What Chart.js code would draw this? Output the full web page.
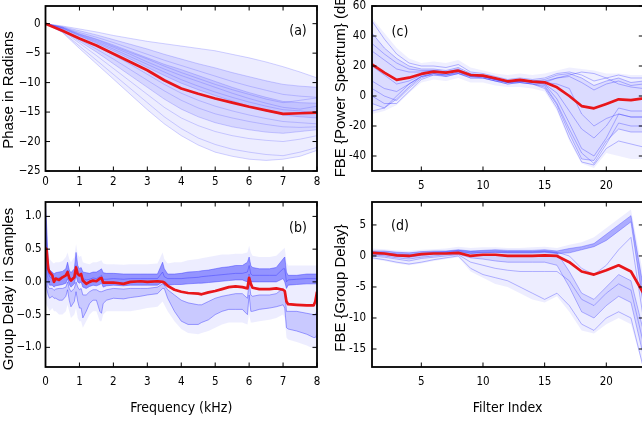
<!DOCTYPE html>
<html><head><meta charset="utf-8">
<script src="https://cdn.jsdelivr.net/npm/chart.js@4/dist/chart.umd.min.js"></script>
<style>
html,body{margin:0;padding:0;background:#fff;overflow:hidden;width:642px;height:423px;position:relative;}
canvas{position:absolute;}
</style></head><body>
<canvas id="ca" style="left:0;top:0" width="330" height="195"></canvas>
<canvas id="cb" style="left:0;top:195px" width="330" height="228"></canvas>
<canvas id="cc" style="left:330px;top:0" width="330" height="195"></canvas>
<canvas id="cd" style="left:330px;top:195px" width="330" height="228"></canvas>
<script>
// ---------- (a) phase ----------
const FREQ_X = [0,0.5,1,1.5,2,2.5,3,3.5,4,4.5,5,5.5,6,6.5,7,7.5,8];
const PHASE_MEAN = [0,-1.2,-2.5,-3.7,-5.1,-6.5,-7.9,-9.6,-11,-11.9,-12.7,-13.4,-14.1,-14.7,-15.3,-15.2,-15.1];
const PHASE_TRACES = [
 [0,-0.4,-0.9,-1.4,-2.0,-2.5,-3.0,-3.4,-3.8,-4.2,-4.6,-5.2,-5.8,-6.5,-7.3,-8.2,-9.2],
 [0,-0.5,-1.2,-1.9,-2.7,-3.5,-4.3,-5.2,-6.0,-6.8,-7.5,-8.3,-9.0,-9.7,-10.3,-10.6,-10.8],
 [0,-0.6,-1.5,-2.3,-3.2,-4.2,-5.2,-6.2,-7.1,-8.0,-8.9,-9.8,-10.6,-11.3,-12.0,-12.3,-12.5],
 [0,-0.6,-1.7,-2.6,-3.6,-4.7,-5.8,-6.9,-7.8,-8.8,-9.8,-10.8,-11.7,-12.5,-13.2,-13.4,-13.5],
 [0,-0.7,-1.8,-2.7,-3.8,-4.9,-6.0,-7.2,-8.3,-9.3,-10.3,-11.2,-12.0,-12.8,-13.4,-13.0,-12.6],
 [0,-0.7,-1.9,-2.9,-4.0,-5.2,-6.5,-7.7,-8.8,-9.8,-10.8,-11.8,-12.7,-13.5,-14.2,-14.5,-14.0],
 [0,-0.8,-2.0,-3.1,-4.3,-5.6,-6.9,-8.2,-9.5,-10.6,-11.6,-12.5,-13.3,-14.0,-14.6,-14.8,-15.2],
 [0,-0.8,-2.1,-3.3,-4.6,-6.0,-7.4,-8.8,-10.1,-11.2,-12.2,-13.1,-14.0,-14.8,-15.5,-15.8,-16.0],
 [0,-0.9,-2.4,-3.8,-5.3,-6.9,-8.6,-10.3,-11.8,-13.0,-14.0,-14.8,-15.5,-16.1,-16.6,-16.8,-17.0],
 [0,-1.0,-2.7,-4.3,-6.0,-7.8,-9.6,-11.4,-13.0,-14.3,-15.3,-16.0,-16.6,-17.1,-17.5,-17.6,-17.5],
 [0,-1.1,-3.0,-4.8,-6.8,-8.8,-10.8,-12.8,-14.5,-15.8,-16.8,-17.5,-18.0,-18.4,-18.6,-18.3,-18.0],
 [0,-1.2,-3.3,-5.4,-7.6,-9.8,-12.0,-14.2,-16.0,-17.3,-18.3,-19.0,-19.5,-19.8,-20.0,-19.6,-19.0],
 [0,-1.4,-3.8,-6.2,-8.6,-11.0,-13.4,-15.8,-17.8,-19.4,-20.5,-21.3,-21.8,-22.2,-22.4,-21.8,-21.0],
 [0,-1.5,-4.2,-6.8,-9.4,-12.0,-14.6,-17.0,-19.0,-20.6,-21.8,-22.5,-23.0,-23.2,-23.0,-22.5,-21.5]
];
const PHASE_YTICKS = [0,-5,-10,-15,-20,-25];
const FREQ_TICKS = [0,1,2,3,4,5,6,7,8];

// ---------- (b) group delay ----------
const GD_X = [0,0.03,0.08,0.12,0.2,0.25,0.3,0.4,0.5,0.6,0.65,0.7,0.75,0.85,0.9,0.95,1.0,1.05,1.1,1.2,1.3,1.4,1.5,1.6,1.65,1.7,1.8,2.0,2.3,2.5,2.8,3.0,3.3,3.45,3.5,3.6,3.8,4.0,4.2,4.5,4.6,4.8,5.0,5.2,5.4,5.6,5.8,5.95,6.0,6.05,6.1,6.3,6.6,6.8,7.0,7.05,7.1,7.15,7.4,7.7,7.9,7.95,8.0];
const GD_MEAN = [0.52,0.5,0.2,0.15,0.1,0.0,0.05,0.03,0.07,0.1,0.15,0.06,0.02,0.07,0.22,0.12,0.1,0.12,0.02,-0.03,0.0,0.02,0.01,0.05,0.06,-0.01,-0.01,-0.01,-0.03,0.0,0.01,0.0,0.01,0.0,-0.01,-0.06,-0.12,-0.15,-0.17,-0.18,-0.19,-0.16,-0.14,-0.11,-0.08,-0.07,-0.08,-0.1,0.06,-0.03,-0.09,-0.11,-0.11,-0.1,-0.12,-0.14,-0.3,-0.34,-0.35,-0.36,-0.36,-0.3,-0.15];
const GD_HI = [1.2,0.9,0.3,0.18,0.15,0.12,0.14,0.15,0.16,0.2,0.3,0.18,0.14,0.2,0.45,0.25,0.2,0.22,0.15,0.14,0.13,0.15,0.15,0.18,0.2,0.14,0.13,0.13,0.12,0.12,0.12,0.12,0.12,0.3,0.2,0.12,0.12,0.13,0.15,0.16,0.17,0.18,0.2,0.22,0.23,0.25,0.25,0.3,0.38,0.25,0.22,0.2,0.2,0.22,0.35,0.38,0.15,0.1,0.1,0.12,0.12,0.12,0.12];
const GD_MID = [1.0,0.6,0.15,0.08,0.05,0.02,0.05,0.06,0.08,0.1,0.18,0.08,0.04,0.08,0.25,0.12,0.1,0.12,0.05,0.03,0.04,0.06,0.05,0.08,0.1,0.04,0.04,0.05,0.04,0.05,0.05,0.05,0.05,0.15,0.08,0.05,0.05,0.05,0.06,0.07,0.08,0.09,0.1,0.11,0.12,0.13,0.13,0.15,0.25,0.12,0.1,0.1,0.1,0.1,0.2,0.2,0.0,0.03,0.04,0.05,0.05,0.05,0.05];
const GD_LO = [0.6,0.2,0.0,-0.05,-0.05,-0.08,-0.06,-0.05,-0.04,-0.02,0.05,-0.04,-0.08,-0.03,0.1,0.0,-0.02,0.0,-0.08,-0.1,-0.07,-0.05,-0.06,-0.04,-0.02,-0.08,-0.06,-0.05,-0.06,-0.05,-0.05,-0.05,-0.05,0.0,-0.05,-0.05,-0.04,-0.04,-0.03,-0.02,-0.02,-0.01,0.0,0.01,0.02,0.03,0.03,0.0,0.12,0.0,0.0,0.0,0.0,0.0,0.05,0.0,-0.1,-0.05,-0.04,-0.03,-0.03,-0.03,-0.03];
const GD_DOWN1 = [0.4,0.1,-0.08,-0.1,-0.1,-0.13,-0.11,-0.1,-0.1,-0.08,0.0,-0.1,-0.15,-0.1,0.0,-0.08,-0.12,-0.1,-0.2,-0.2,-0.15,-0.12,-0.12,-0.15,-0.15,-0.14,-0.12,-0.1,-0.11,-0.1,-0.1,-0.1,-0.08,-0.03,-0.05,-0.12,-0.2,-0.28,-0.32,-0.35,-0.35,-0.3,-0.25,-0.22,-0.2,-0.18,-0.18,-0.25,0.0,-0.2,-0.22,-0.2,-0.2,-0.18,-0.1,-0.15,-0.45,-0.45,-0.45,-0.48,-0.5,-0.5,-0.45];
const GD_DOWN2 = [0.2,-0.1,-0.2,-0.25,-0.22,-0.25,-0.25,-0.28,-0.28,-0.22,-0.12,-0.28,-0.38,-0.3,-0.15,-0.3,-0.4,-0.4,-0.55,-0.45,-0.33,-0.28,-0.28,-0.45,-0.48,-0.33,-0.28,-0.25,-0.26,-0.24,-0.22,-0.2,-0.18,-0.1,-0.1,-0.25,-0.45,-0.6,-0.65,-0.65,-0.62,-0.58,-0.5,-0.45,-0.42,-0.42,-0.42,-0.5,-0.2,-0.45,-0.45,-0.42,-0.4,-0.38,-0.35,-0.4,-0.7,-0.72,-0.75,-0.8,-0.85,-0.85,-0.8];
const GD_ENV_HI = [1.22,1.0,0.45,0.35,0.3,0.28,0.3,0.3,0.32,0.38,0.45,0.35,0.3,0.38,0.58,0.42,0.38,0.4,0.3,0.28,0.27,0.3,0.3,0.32,0.33,0.28,0.27,0.27,0.26,0.27,0.27,0.27,0.28,0.45,0.35,0.28,0.3,0.3,0.33,0.35,0.36,0.38,0.4,0.42,0.42,0.43,0.43,0.45,0.55,0.45,0.4,0.38,0.38,0.4,0.5,0.52,0.3,0.25,0.25,0.25,0.25,0.25,0.25];
const GD_ENV_LO = [-0.3,-0.35,-0.4,-0.45,-0.4,-0.45,-0.45,-0.5,-0.5,-0.45,-0.35,-0.45,-0.55,-0.5,-0.4,-0.55,-0.6,-0.6,-0.7,-0.6,-0.5,-0.45,-0.45,-0.6,-0.6,-0.5,-0.45,-0.45,-0.45,-0.45,-0.42,-0.4,-0.38,-0.3,-0.35,-0.45,-0.6,-0.72,-0.78,-0.8,-0.78,-0.75,-0.7,-0.65,-0.62,-0.62,-0.62,-0.65,-0.5,-0.62,-0.62,-0.6,-0.58,-0.55,-0.5,-0.55,-0.85,-0.88,-0.92,-0.97,-1.02,-1.02,-1.0];
const GD_YTICKS = [1.0,0.5,0.0,-0.5,-1.0];

// ---------- (c) FBE power spectrum ----------
const FILTER_X = [1,2,3,4,5,6,7,8,9,10,11,12,13,14,15,16,17,18,19,20,21,22,23];
const PS_MEAN = [21.1,15.6,10.7,12.2,14.7,16.2,15.6,16.9,14,13.6,11.8,9.8,10.7,9.6,9.1,5.8,0,-6.7,-8.2,-5.3,-2.2,-2.7,-1.6];
const PS_TRACES = [
 [50,38,28,22,20,20,19,21,16,15,13,11,12,11,12,15,16,14,10,12,14,12,12],
 [42,32,25,20,18,18,17,19,15,14,12,10,11,10,11,14,15,12,7,10,12,9,10],
 [35,28,22,18,17,17,16,18,14,13,11,10,10,10,10,12,13,9,4,8,10,7,8],
 [30,24,18,16,16,17,16,17,14,13,11,9,10,9,9,12,14,16,15,12,8,6,5],
 [20,14,8,10,14,16,15,17,14,13,11,10,10,10,9,8,5,-12,-20,-15,-12,-14,-14],
 [10,5,3,8,13,14,14,16,13,13,11,9,10,9,8,2,-10,-22,-28,-20,-8,-10,-10],
 [5,0,-3,5,12,15,14,16,13,13,11,9,10,9,8,-2,-18,-35,-40,-28,-12,-14,-14],
 [0,-5,-5,3,11,14,13,15,12,12,10,8,9,8,7,-5,-22,-38,-45,-32,-18,-20,-20],
 [-5,-8,-2,6,13,15,14,15,13,12,10,9,9,8,6,-6,-25,-42,-43,-30,-22,-24,-24],
 [-10,-8,0,8,13,15,13,15,12,12,10,8,9,8,5,-8,-28,-44,-46,-35,-30,-32,-34]
];
const PS_ENV_HI = [52,42,32,25,22,23,22,24,19,17,15,14,15,14,15,17,19,18,17,15,15,14,14];
const PS_ENV_LO = [-12,-10,-6,2,9,11,10,12,9,9,7,6,6,5,3,-10,-30,-45,-48,-38,-40,-42,-42];
const PS_YTICKS = [60,40,20,0,-20,-40];
const FILTER_TICKS = [5,10,15,20];

// ---------- (d) FBE group delay ----------
const FGD_MEAN = [0.5,0.4,0.1,0.0,0.3,0.4,0.4,0.5,0.0,0.2,0.2,0.0,0.0,0.0,0.1,0.0,-1.0,-2.5,-3.0,-2.3,-1.5,-2.5,-6.0];
const FGD_TRACES = [
 [0.8,0.8,0.6,0.5,0.7,0.8,0.8,1.0,0.8,0.9,1.0,0.9,0.9,0.9,1.0,0.8,1.2,1.5,2.0,3.5,5.0,6.5,-5],
 [0.6,0.5,0.3,0.2,0.4,0.6,0.7,0.9,0.7,0.8,0.8,0.7,0.7,0.7,0.8,0.6,0.0,-2.0,-3.0,-1.5,1.0,3.0,-10],
 [0.5,0.4,0.2,0.0,0.3,0.5,0.6,0.8,0.5,0.6,0.6,0.6,0.6,0.6,0.7,0.5,-2.5,-6.0,-7.0,-5.0,-3.0,-4.0,-12],
 [0.3,0.2,0.0,-0.2,0.1,0.3,0.4,0.6,0.4,0.5,0.6,0.5,0.5,0.5,0.6,0.4,0.5,1.0,1.5,2.5,4.0,5.5,-8],
 [0.2,0.0,-0.3,-0.5,-0.2,0.0,0.2,0.3,-0.3,-0.5,-0.8,-1.0,-1.0,-1.0,-1.0,-1.5,-5.0,-9.0,-10.0,-8.0,-6.5,-7.5,-16],
 [0.0,-0.2,-0.5,-0.8,-0.4,-0.2,0.0,0.2,-1.0,-1.5,-2.0,-2.3,-2.5,-2.5,-2.5,-2.5,-4.0,-7.0,-8.0,-6.0,-4.5,-5.5,-14],
 [-0.3,-0.6,-1.0,-1.3,-1.0,-0.6,-0.3,0.0,-2.0,-3.0,-3.5,-4.0,-5.0,-6.0,-7.0,-6.0,-8.0,-11.0,-12.0,-10.0,-9.0,-10.0,-18]
];
const FGD_ENV_HI = [1.2,1.1,0.9,0.8,1.0,1.1,1.2,1.5,1.3,1.4,1.4,1.3,1.3,1.4,1.5,1.3,1.8,2.2,3.0,4.5,6.0,7.5,-3];
const FGD_ENV_LO = [-0.5,-0.8,-1.2,-1.5,-1.2,-0.8,-0.5,-0.2,-2.5,-3.5,-4.5,-5.0,-6.0,-7.0,-7.5,-6.5,-9.0,-12.0,-12.5,-11.0,-10.0,-11.0,-18];
const FGD_YTICKS = [5,0,-5,-10,-15];

// ---------- drawing ----------
const RED = 'rgb(232,22,26)';
const TICK_FONT = {family:"'Liberation Sans Narrow','DejaVu Sans Condensed','Liberation Sans',sans-serif", size:11.5};
const xy = (xs, ys) => xs.map((x,i)=>({x:x, y:ys[i]}));

function buildDatasets(xs, mean, traces, envs, traceAlpha){
  const ds = [{data:xy(xs,mean), borderColor:RED, borderWidth:2.7, order:0}];
  traces.forEach(t => ds.push({data:xy(xs,t), borderColor:'rgba(60,60,255,'+traceAlpha+')', borderWidth:0.9, order:1}));
  envs.forEach(e => {
    const idx = ds.length;
    ds.push({data:xy(xs,e[0]), borderWidth:0, borderColor:'rgba(0,0,0,0)', backgroundColor:'rgba(75,75,255,'+e[2]+')', fill:idx+1, order:2});
    ds.push({data:xy(xs,e[1]), borderWidth:0, borderColor:'rgba(0,0,0,0)', fill:false, order:2});
  });
  return ds;
}

const framePlugin = {
  id:'frame',
  afterDraw(chart, args, o){
    const ctx = chart.ctx, a = chart.chartArea, xs = chart.scales.x, ys = chart.scales.y;
    ctx.save();
    ctx.strokeStyle = '#000';
    ctx.lineWidth = 1;
    const L = 4.5;
    ctx.beginPath();
    xs.ticks.forEach(t => { const p = xs.getPixelForValue(t.value);
      ctx.moveTo(p,a.bottom); ctx.lineTo(p,a.bottom-L); ctx.moveTo(p,a.top); ctx.lineTo(p,a.top+L); });
    ys.ticks.forEach(t => { const p = ys.getPixelForValue(t.value);
      ctx.moveTo(a.left,p); ctx.lineTo(a.left+L,p); ctx.moveTo(a.right,p); ctx.lineTo(a.right-L,p); });
    ctx.stroke();
    ctx.lineWidth = 1.8;
    ctx.strokeRect(a.left, a.top, a.right-a.left, a.bottom-a.top);
    ctx.fillStyle = '#000';
    ctx.textAlign = 'center'; ctx.textBaseline = 'middle';
    ctx.font = "14px 'Liberation Sans Narrow','DejaVu Sans Condensed',sans-serif";
    ctx.fillText(o.label, o.lx, o.ly);
    ctx.translate(o.tx, o.ty); ctx.rotate(-Math.PI/2);
    ctx.font = "15px 'Liberation Sans',Arial,sans-serif";
    ctx.fillText(o.ytitle, 0, 0);
    ctx.restore();
  }
};

function panel(id, c){
  new Chart(document.getElementById(id), {
    type:'line',
    data:{datasets:c.datasets},
    options:{
      responsive:false, animation:false, events:[],
      layout:{padding:{left:0, right:c.padRight, top:c.padTop, bottom:0}},
      elements:{point:{radius:0}, line:{tension:0, borderJoinStyle:'round'}},
      plugins:{legend:{display:false}, tooltip:{enabled:false},
        frame:{label:c.label, lx:c.lx, ly:c.ly, ytitle:c.ytitle, tx:c.tx, ty:c.ty}},
      scales:{
        x:{type:'linear', min:c.xmin, max:c.xmax,
          afterBuildTicks: s => { s.ticks = c.xTicks.map(v=>({value:v})); },
          afterFit: s => { s.height = c.xH; s.paddingLeft = 0; s.paddingRight = 0; },
          grid:{display:false, drawTicks:false}, border:{display:false},
          ticks:{autoSkip:false, maxRotation:0, padding:c.xPad, color:'#000', font:TICK_FONT, callback:v=>String(v)},
          title: c.xTitle ? {display:true, text:c.xTitle, color:'#000', padding:{top:0,bottom:6},
            font:{family:"'Liberation Sans Narrow','DejaVu Sans Condensed',sans-serif", size:14}} : {display:false}
        },
        y:{type:'linear', min:c.ymin, max:c.ymax,
          afterBuildTicks: s => { s.ticks = c.yTicks.map(v=>({value:v})); },
          afterFit: s => { s.width = c.yW; s.paddingTop = 0; s.paddingBottom = 0; },
          grid:{display:false, drawTicks:false}, border:{display:false},
          ticks:{autoSkip:false, padding:c.yPad, color:'#000', font:TICK_FONT, callback:c.yFmt}
        }
      }
    },
    plugins:[framePlugin]
  });
}

const uminus = s => s.replace('-', '\u2212');

panel('ca', {
  datasets: buildDatasets(FREQ_X, PHASE_MEAN, PHASE_TRACES,
    [[PHASE_TRACES[0], PHASE_TRACES[13], 0.1],[PHASE_TRACES[1], PHASE_TRACES[10], 0.14],[PHASE_TRACES[3], PHASE_TRACES[7], 0.14]], 0.25),
  xmin:0, xmax:8, ymin:-25, ymax:3, xTicks:FREQ_TICKS, yTicks:PHASE_YTICKS,
  padTop:6, padRight:13, yW:45.5, xH:24, xPad:4, yPad:5,
  yFmt: v => uminus(String(v)),
  label:'(a)', lx:298, ly:31, ytitle:'Phase in Radians', tx:9, ty:90
});
panel('cb', {
  datasets: buildDatasets(GD_X, GD_MEAN, [GD_HI, GD_MID, GD_LO, GD_DOWN1, GD_DOWN2],
    [[GD_ENV_HI, GD_ENV_LO, 0.1],[GD_HI, GD_LO, 0.55],[GD_DOWN1, GD_DOWN2, 0.22]], 0.5),
  xmin:0, xmax:8, ymin:-1.3, ymax:1.22, xTicks:FREQ_TICKS, yTicks:GD_YTICKS,
  padTop:7, padRight:13, yW:45.5, xH:56, xPad:8, yPad:4,
  yFmt: v => uminus(v.toFixed(1)),
  xTitle:'Frequency (kHz)',
  label:'(b)', lx:298, ly:33, ytitle:'Group Delay in Samples', tx:8.5, ty:94
});
panel('cc', {
  datasets: buildDatasets(FILTER_X, PS_MEAN, PS_TRACES,
    [[PS_ENV_HI, PS_ENV_LO, 0.09],[PS_TRACES[1], PS_TRACES[8], 0.12]], 0.4),
  xmin:1, xmax:23, ymin:-50, ymax:60, xTicks:FILTER_TICKS, yTicks:PS_YTICKS,
  padTop:6, padRight:16.7, yW:42, xH:24, xPad:8, yPad:6,
  yFmt: v => String(v),
  label:'(c)', lx:70, ly:32, ytitle:'FBE {Power Spectrum} (dB)', tx:11, ty:84
});
panel('cd', {
  datasets: buildDatasets(FILTER_X, FGD_MEAN, FGD_TRACES,
    [[FGD_ENV_HI, FGD_ENV_LO, 0.1],[FGD_TRACES[0], FGD_TRACES[3], 0.4],[FGD_TRACES[2], FGD_TRACES[4], 0.15]], 0.4),
  xmin:1, xmax:23, ymin:-17.9, ymax:8.7, xTicks:FILTER_TICKS, yTicks:FGD_YTICKS,
  padTop:7, padRight:16.7, yW:42, xH:56, xPad:8, yPad:6,
  yFmt: v => String(v),
  xTitle:'Filter Index',
  label:'(d)', lx:70, ly:31, ytitle:'FBE {Group Delay}', tx:11, ty:93
});
</script>
</body></html>
